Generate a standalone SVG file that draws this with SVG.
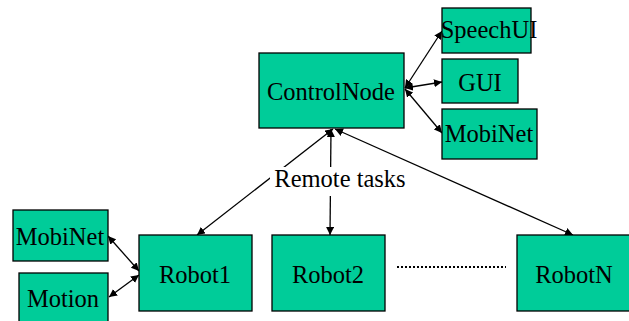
<svg xmlns="http://www.w3.org/2000/svg" width="629" height="321" viewBox="0 0 629 321">
  <style>
    .box { fill: #00CC99; stroke: #000; stroke-width: 1.3; }
    .lbl { font-family: "Liberation Serif", "Times New Roman", serif; font-size: 24.5px; fill: #000; text-anchor: middle; }
    .link { stroke: #000; stroke-width: 1.3; fill: none; marker-start: url(#head); marker-end: url(#head); }
  </style>
  <defs>
    <marker id="head" viewBox="0 0 10 10" refX="10" refY="5" markerWidth="8" markerHeight="8" markerUnits="userSpaceOnUse" orient="auto-start-reverse">
      <path d="M0,0 L10,5 L0,10 z" fill="#000"/>
    </marker>
  </defs>
  <rect width="629" height="321" fill="#fff"/>

  <g id="connectors">
    <line class="link" x1="405" y1="88" x2="442" y2="31"/>
    <line class="link" x1="405" y1="88" x2="442" y2="82"/>
    <line class="link" x1="405" y1="89" x2="442" y2="133"/>
    <line class="link" x1="333" y1="129" x2="197" y2="235"/>
    <line class="link" x1="331" y1="129" x2="330" y2="235"/>
    <line class="link" x1="335" y1="129" x2="573" y2="235"/>
    <line class="link" x1="108" y1="236" x2="139" y2="271"/>
    <line class="link" x1="109" y1="297" x2="139" y2="275"/>
    <line x1="397" y1="267" x2="506" y2="267" stroke="#000" stroke-width="2.2" stroke-dasharray="2 2"/>
  </g>

  <g id="remote-tasks">
    <rect x="270" y="167" width="116" height="29" fill="#fff"/>
    <text class="lbl" x="340" y="187">Remote tasks</text>
  </g>

  <g id="controlnode">
    <rect class="box" x="259" y="53" width="145" height="75"/>
    <text class="lbl" x="331" y="100">ControlNode</text>
  </g>
  <g id="speechui">
    <rect class="box" x="442" y="8" width="89" height="45"/>
    <text class="lbl" x="489" y="38">SpeechUI</text>
  </g>
  <g id="gui">
    <rect class="box" x="442" y="59" width="76" height="44"/>
    <text class="lbl" x="480" y="91">GUI</text>
  </g>
  <g id="mobinet-top">
    <rect class="box" x="442" y="109" width="95" height="50"/>
    <text class="lbl" x="489" y="142">MobiNet</text>
  </g>
  <g id="mobinet-robot">
    <rect class="box" x="13" y="210" width="95" height="51"/>
    <text class="lbl" x="60" y="245">MobiNet</text>
  </g>
  <g id="motion">
    <rect class="box" x="19" y="273" width="89" height="52"/>
    <text class="lbl" x="63" y="307">Motion</text>
  </g>
  <g id="robot1">
    <rect class="box" x="139" y="235" width="113" height="76"/>
    <text class="lbl" x="195" y="283">Robot1</text>
  </g>
  <g id="robot2">
    <rect class="box" x="272" y="235" width="113" height="76"/>
    <text class="lbl" x="328" y="283">Robot2</text>
  </g>
  <g id="robotn">
    <rect class="box" x="517" y="235" width="116" height="76"/>
    <text class="lbl" x="574" y="283">RobotN</text>
  </g>
</svg>
